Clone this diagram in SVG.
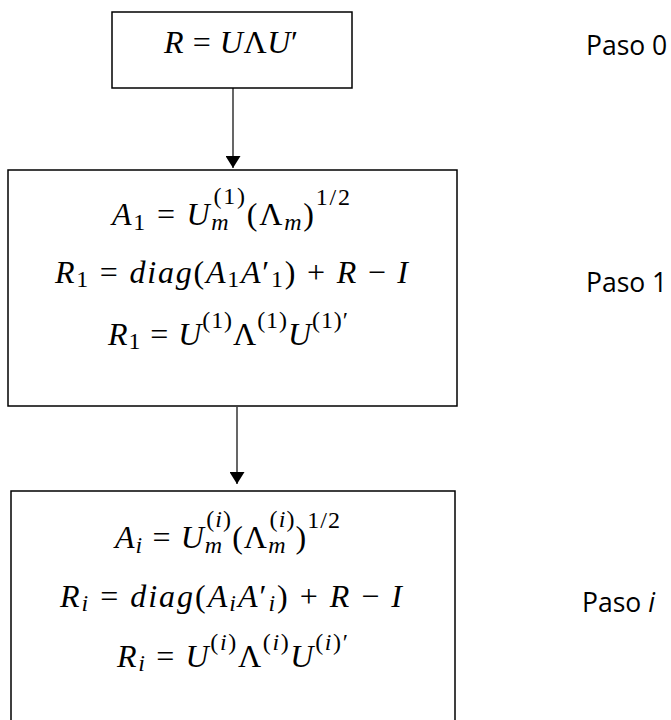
<svg xmlns="http://www.w3.org/2000/svg" width="671" height="720" viewBox="0 0 671 720">
<style>
text{white-space:pre}
.m{font-family:"Liberation Serif",serif;font-size:32px;text-anchor:middle;fill:#000}
.i{font-style:italic}
.s{font-size:24px}
.p{font-family:"Open Sans","Noto Sans",sans-serif;font-size:26.5px;fill:#000}
.box{fill:#fff;stroke:#000;stroke-width:1.5}
.con{stroke:#000;stroke-width:1.2;fill:none}
</style>
<defs>
<marker id="ah" viewBox="0 0 12 15" refX="12" refY="7.5" markerWidth="12" markerHeight="15" markerUnits="userSpaceOnUse" orient="auto">
<path d="M0,0 L12,7.5 L0,15 Z" fill="#000"/>
</marker>
</defs>
<rect width="671" height="720" fill="#fff"/>
<g id="connectors">
<line class="con" x1="233" y1="88" x2="233" y2="168" marker-end="url(#ah)"/>
<line class="con" x1="237" y1="407" x2="237" y2="484" marker-end="url(#ah)"/>
</g>
<g id="paso0">
<rect class="box" x="112" y="12" width="240" height="76"/>
<text class="m" x="231" y="53" textLength="134" lengthAdjust="spacing"><tspan class="i">R</tspan> = <tspan class="i">U</tspan>Λ<tspan class="i">U</tspan>′</text>
</g>
<g id="paso1">
<rect class="box" x="8" y="170" width="449" height="236"/>
<text class="m" x="231" y="225" textLength="238" lengthAdjust="spacing"><tspan class="i">A</tspan><tspan class="s" dy="5">1</tspan><tspan dy="-5"> = </tspan><tspan class="i">U</tspan><tspan class="s i" dy="5">m</tspan><tspan class="s" dx="-17" dy="-26">(1)</tspan><tspan dy="21">(Λ</tspan><tspan class="s i" dy="5">m</tspan><tspan dy="-5">)</tspan><tspan class="s" dy="-20">1/2</tspan></text>
<text class="m" x="231.5" y="283" textLength="353" lengthAdjust="spacing"><tspan class="i">R</tspan><tspan class="s" dy="4">1</tspan><tspan dy="-4"> = </tspan><tspan class="i">diag</tspan>(<tspan class="i">A</tspan><tspan class="s" dy="4">1</tspan><tspan class="i" dy="-4">A</tspan>′<tspan class="s" dy="4">1</tspan><tspan dy="-4">) + </tspan><tspan class="i">R</tspan> − <tspan class="i">I</tspan></text>
<text class="m" x="228" y="345" textLength="240" lengthAdjust="spacing"><tspan class="i">R</tspan><tspan class="s" dy="4">1</tspan><tspan dy="-4"> = </tspan><tspan class="i">U</tspan><tspan class="s" dy="-17">(1)</tspan><tspan dy="17">Λ</tspan><tspan class="s" dy="-17">(1)</tspan><tspan class="i" dy="17">U</tspan><tspan class="s" dy="-17">(1)′</tspan></text>
</g>
<g id="pasoi">
<rect class="box" x="11" y="491" width="444" height="240"/>
<text class="m" x="227.5" y="548" textLength="225" lengthAdjust="spacing"><tspan class="i">A</tspan><tspan class="s i" dy="5">i</tspan><tspan dy="-5"> = </tspan><tspan class="i">U</tspan><tspan class="s i" dy="5">m</tspan><tspan class="s" dx="-17" dy="-26">(<tspan class="i">i</tspan>)</tspan><tspan dy="21">(Λ</tspan><tspan class="s i" dy="5">m</tspan><tspan class="s" dx="-17" dy="-26">(<tspan class="i">i</tspan>)</tspan><tspan dy="21">)</tspan><tspan class="s" dy="-20">1/2</tspan></text>
<text class="m" x="231" y="607" textLength="342" lengthAdjust="spacing"><tspan class="i">R</tspan><tspan class="s i" dy="4">i</tspan><tspan dy="-4"> = </tspan><tspan class="i">diag</tspan>(<tspan class="i">A</tspan><tspan class="s i" dy="4">i</tspan><tspan class="i" dy="-4">A</tspan>′<tspan class="s i" dy="4">i</tspan><tspan dy="-4">) + </tspan><tspan class="i">R</tspan> − <tspan class="i">I</tspan></text>
<text class="m" x="232.5" y="667" textLength="231" lengthAdjust="spacing"><tspan class="i">R</tspan><tspan class="s i" dy="4">i</tspan><tspan dy="-4"> = </tspan><tspan class="i">U</tspan><tspan class="s" dy="-17">(<tspan class="i">i</tspan>)</tspan><tspan dy="17">Λ</tspan><tspan class="s" dy="-17">(<tspan class="i">i</tspan>)</tspan><tspan class="i" dy="17">U</tspan><tspan class="s" dy="-17">(<tspan class="i">i</tspan>)′</tspan></text>
</g>
<g id="labels">
<text class="p" x="586" y="55">Paso 0</text>
<text class="p" x="586" y="292">Paso 1</text>
<text class="p" x="582" y="612">Paso <tspan font-style="italic">i</tspan></text>
</g>
</svg>
